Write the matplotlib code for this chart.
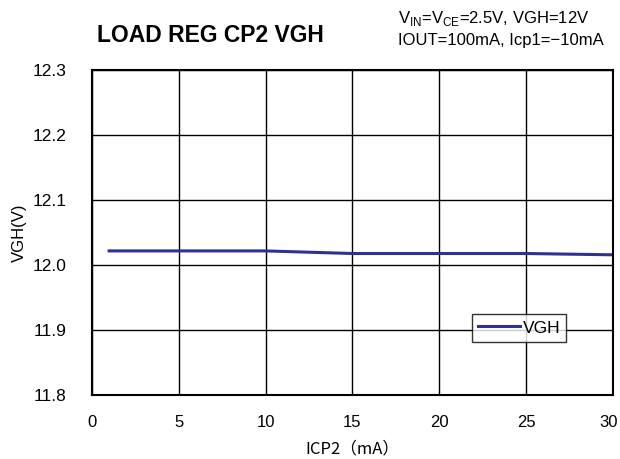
import matplotlib
matplotlib.use("Agg")
import matplotlib.pyplot as plt
from matplotlib.transforms import ScaledTranslation

# load regulation data, VGH vs ICP2 current
icp2_ma = [1, 3, 5, 7, 10, 15, 20, 25, 30]
vgh_v = [12.022, 12.022, 12.022, 12.022, 12.022, 12.018, 12.018, 12.018, 12.016]

x_ticks = [0, 5, 10, 15, 20, 25, 30]
y_ticks = [11.8, 11.9, 12.0, 12.1, 12.2, 12.3]

plt.rcParams['font.family'] = ['Liberation Sans', 'Noto Sans CJK JP', 'DejaVu Sans']

fig = plt.figure(figsize=(6.2, 4.59), dpi=100)
ax = fig.add_axes([0.148, 0.139, 0.841, 0.708])

ax.plot(icp2_ma, vgh_v, color='#2e3192', lw=2.2, label='VGH')

ax.set_xlim(0, 30)
ax.set_ylim(11.8, 12.3)
ax.set_xticks(x_ticks)
ax.set_yticks(y_ticks)
ax.set_xticklabels([str(t) for t in x_ticks], fontsize=12)
ax.set_yticklabels(['%.1f' % t for t in y_ticks], fontsize=12.5)
ax.tick_params(length=0)
ax.tick_params(axis='x', pad=14)
ax.tick_params(axis='y', pad=18)
ax.grid(True, color='#000000', lw=1.0)
for s in ax.spines.values():
    s.set_linewidth(1.5)
    s.set_color('black')

# nudge the last x label so it stays inside the figure
last = ax.get_xticklabels()[-1]
last.set_transform(last.get_transform() + ScaledTranslation(-5 / 100, 0, fig.dpi_scale_trans))

ax.set_xlabel('ICP2（mA）', fontsize=12, family=['Noto Sans CJK JP'], labelpad=8)
ax.set_ylabel('VGH(V)', fontsize=12, labelpad=4)

leg = ax.legend(loc='lower right', bbox_to_anchor=(0.91, 0.165), fontsize=12.5,
                frameon=True, fancybox=False, handlelength=2.4, handletextpad=0.15,
                borderpad=0.35, borderaxespad=0)
leg.get_frame().set_edgecolor('black')
leg.get_frame().set_linewidth(1.0)

fig.text(0.157, 0.922, 'LOAD REG CP2 VGH', fontsize=16.5, fontweight='bold',
         va='center', ha='left')
fig.text(0.642, 0.960, r'V$_{\mathregular{IN}}$=V$_{\mathregular{CE}}$=2.5V, VGH=12V',
         fontsize=12, va='center', ha='left')
fig.text(0.642, 0.911, 'IOUT=100mA, Icp1=−10mA', fontsize=12, va='center', ha='left')

fig.savefig('out.png', dpi=100)
